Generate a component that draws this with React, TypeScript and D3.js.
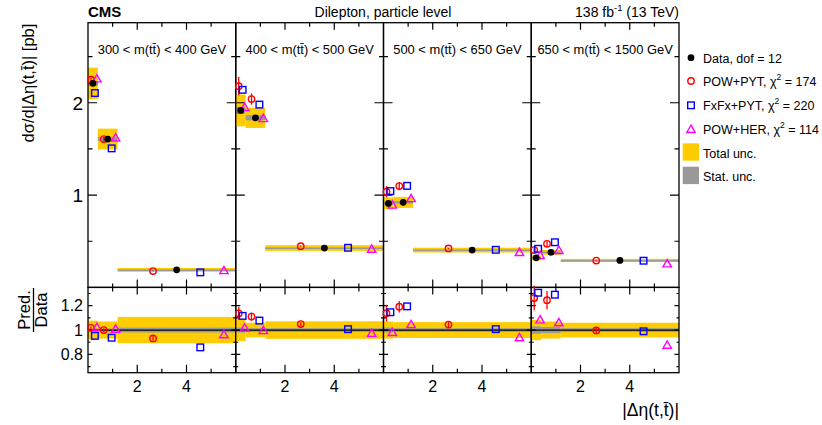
import React from "react";
import * as d3 from "d3";

// ---------------- data ----------------
const panelLabels = [
  "300 < m(tt\u0304) < 400 GeV",
  "400 < m(tt\u0304) < 500 GeV",
  "500 < m(tt\u0304) < 650 GeV",
  "650 < m(tt\u0304) < 1500 GeV",
];
const binEdges = [0, 0.4, 1.2, 6];
const dataXsec = [
  [2.21, 1.607, 0.19],
  [1.917, 1.837, 0.426],
  [0.91, 0.921, 0.404],
  [0.32, 0.379, 0.292],
];
const powPyt = [
  [2.25, 1.607, 0.177],
  [2.18, 2.04, 0.447],
  [1.036, 1.097, 0.422],
  [0.404, 0.472, 0.291],
];
const powPytRelErr = [
  [0.01, 0.015, 0.02],
  [0.045, 0.03, 0.015],
  [0.06, 0.04, 0.02],
  [0.08, 0.06, 0.02],
];
const fxfxPyt = [
  [2.105, 1.506, 0.163],
  [2.14, 1.98, 0.429],
  [1.043, 1.1, 0.407],
  [0.418, 0.489, 0.289],
];
const powHer = [
  [2.26, 1.62, 0.183],
  [1.95, 1.83, 0.415],
  [0.893, 0.963, 0.379],
  [0.347, 0.402, 0.256],
];
const totalRelUnc = [
  [0.077, 0.07, 0.108],
  [0.09, 0.06, 0.072],
  [0.07, 0.065, 0.065],
  [0.083, 0.07, 0.06],
];
const statRelUnc = [
  [0.012, 0.012, 0.02],
  [0.02, 0.015, 0.015],
  [0.02, 0.015, 0.015],
  [0.03, 0.025, 0.015],
];
const topMajorTicks = [1, 2];
const topMinorTicks = [0.5, 1.5, 2.5];
const ratioMajorTicks = [0.8, 1, 1.2];
const ratioMinorTicks = [0.7, 0.9, 1.1, 1.3];
const xMajorTicks = [2, 4];
const xMinorTicks = [1, 3, 5];
const legendEntries = [
  { key: "data", label: "Data, dof = 12", chi: "" },
  { key: "pow", label: "POW+PYT, ", chi: "174" },
  { key: "fxfx", label: "FxFx+PYT, ", chi: "220" },
  { key: "her", label: "POW+HER, ", chi: "114" },
];

// ---------------- layout ----------------
const W = 822;
const H = 425;
const X0 = 88;
const X1 = 679;
const TOP_Y0 = 22.7;
const TOP_Y1 = 287.4;
const RAT_Y1 = 372.7;
const NP = 4;
const PW = (X1 - X0) / NP;
const FONT = "'Liberation Sans', Arial, Helvetica, sans-serif";

const C_YEL = "#ffcc00";
const C_GRAY = "#999999";
const C_RED = "#ff0000";
const C_BLUE = "#0000ff";
const C_MAG = "#ff00ff";

const yTop = d3.scaleLinear().domain([0, 2.867]).range([TOP_Y1, TOP_Y0]);
const yRat = d3.scaleLinear().domain([0.65, 1.35]).range([RAT_Y1, TOP_Y1]);

function Marker({ kind, x, y }: { kind: string; x: number; y: number }) {
  if (kind === "data") return <circle cx={x} cy={y} r={3.4} fill="#000" />;
  if (kind === "pow")
    return <circle cx={x} cy={y} r={3.2} fill="none" stroke={C_RED} strokeWidth={1.4} />;
  if (kind === "fxfx")
    return <rect x={x - 3.3} y={y - 3.3} width={6.6} height={6.6} fill="none" stroke={C_BLUE} strokeWidth={1.4} />;
  const s = 4.2;
  return (
    <path
      d={`M${x},${y - s} L${x + s},${y + s * 0.75} L${x - s},${y + s * 0.75} Z`}
      fill="none"
      stroke={C_MAG}
      strokeWidth={1.4}
    />
  );
}

function Panel({ p }: { p: number }) {
  const px0 = X0 + p * PW;
  const x = d3.scaleLinear().domain([0, 6]).range([px0, px0 + PW]);
  const bins = d3.range(binEdges.length - 1).map((i) => {
    const lo = binEdges[i];
    const hi = binEdges[i + 1];
    const w = hi - lo;
    const c = (lo + hi) / 2;
    return { i, lo, hi, w, c };
  });
  const models = [
    { kind: "pow", vals: powPyt[p], off: -0.2 },
    { kind: "fxfx", vals: fxfxPyt[p], off: 0.2 },
    { kind: "her", vals: powHer[p], off: 0.4 },
  ];
  const els: any[] = [];
  bins.forEach((b) => {
    const d = dataXsec[p][b.i];
    const t = totalRelUnc[p][b.i] * d;
    const s = statRelUnc[p][b.i] * d;
    els.push(
      <rect key={`ty${b.i}`} x={x(b.lo)} width={x(b.hi) - x(b.lo)} y={yTop(d + t)} height={yTop(d - t) - yTop(d + t)} fill={C_YEL} />
    );
    els.push(
      <rect key={`tg${b.i}`} x={x(b.lo)} width={x(b.hi) - x(b.lo)} y={yTop(d + s)} height={Math.max(1.5, yTop(d - s) - yTop(d + s))} fill={C_GRAY} />
    );
    const t2 = totalRelUnc[p][b.i];
    const s2 = statRelUnc[p][b.i];
    els.push(
      <rect key={`ry${b.i}`} x={x(b.lo)} width={x(b.hi) - x(b.lo)} y={yRat(1 + t2)} height={yRat(1 - t2) - yRat(1 + t2)} fill={C_YEL} />
    );
    els.push(
      <rect key={`rg${b.i}`} x={x(b.lo)} width={x(b.hi) - x(b.lo)} y={yRat(1 + s2)} height={yRat(1 - s2) - yRat(1 + s2)} fill={C_GRAY} />
    );
  });
  els.push(<line key="one" x1={x(0)} x2={x(6)} y1={yRat(1)} y2={yRat(1)} stroke="#000" strokeWidth={1.3} />);
  els.push(<rect key="ftop" x={px0} y={TOP_Y0} width={PW} height={TOP_Y1 - TOP_Y0} fill="none" stroke="#000" strokeWidth={1.3} />);
  els.push(<rect key="frat" x={px0} y={TOP_Y1} width={PW} height={RAT_Y1 - TOP_Y1} fill="none" stroke="#000" strokeWidth={1.3} />);
  const tk: string[] = [];
  xMajorTicks.forEach((v) => {
    const xx = x(v);
    tk.push(`M${xx},${TOP_Y0}v7`, `M${xx},${TOP_Y1}v-8`, `M${xx},${TOP_Y1}v7`, `M${xx},${RAT_Y1}v-8`);
  });
  xMinorTicks.forEach((v) => {
    const xx = x(v);
    tk.push(`M${xx},${TOP_Y0}v4`, `M${xx},${TOP_Y1}v-4`, `M${xx},${TOP_Y1}v4`, `M${xx},${RAT_Y1}v-4`);
  });
  topMajorTicks.forEach((v) => {
    const yy = yTop(v);
    tk.push(`M${px0},${yy}h9`, `M${px0 + PW},${yy}h-9`);
  });
  topMinorTicks.forEach((v) => {
    const yy = yTop(v);
    tk.push(`M${px0},${yy}h4.5`, `M${px0 + PW},${yy}h-4.5`);
  });
  ratioMajorTicks.forEach((v) => {
    const yy = yRat(v);
    tk.push(`M${px0},${yy}h4.5`, `M${px0 + PW},${yy}h-4.5`);
  });
  ratioMinorTicks.forEach((v) => {
    const yy = yRat(v);
    tk.push(`M${px0},${yy}h2.5`, `M${px0 + PW},${yy}h-2.5`);
  });
  els.push(<path key="ticks" d={tk.join("")} stroke="#000" strokeWidth={1.2} fill="none" />);
  xMajorTicks.forEach((v) => {
    els.push(
      <text key={`xl${v}`} x={x(v)} y={392} textAnchor="middle" fontSize={16} fontFamily={FONT}>
        {String(v)}
      </text>
    );
  });
  els.push(
    <text key="plab" x={px0 + PW / 2} y={54} textAnchor="middle" fontSize={12.9} fontFamily={FONT}>
      {panelLabels[p]}
    </text>
  );
  bins.forEach((b) => {
    const d = dataXsec[p][b.i];
    models.forEach((m) => {
      const xx = x(b.c + m.off * b.w);
      const v = m.vals[b.i];
      const r = v / d;
      if (m.kind === "pow") {
        const e = powPytRelErr[p][b.i];
        els.push(
          <line key={`et${b.i}`} x1={xx} x2={xx} y1={yTop(v * (1 + e))} y2={yTop(v * (1 - e))} stroke={C_RED} strokeWidth={1.3} />
        );
        els.push(
          <line key={`er${b.i}`} x1={xx} x2={xx} y1={yRat(r * (1 + e))} y2={yRat(r * (1 - e))} stroke={C_RED} strokeWidth={1.3} />
        );
      }
      els.push(<Marker key={`mt${m.kind}${b.i}`} kind={m.kind} x={xx} y={yTop(v)} />);
      els.push(<Marker key={`mr${m.kind}${b.i}`} kind={m.kind} x={xx} y={yRat(r)} />);
    });
    els.push(<Marker key={`d${b.i}`} kind="data" x={x(b.c)} y={yTop(d)} />);
  });
  return <g>{els}</g>;
}

export default function App() {
  const legX = 691;
  const legRows = [57.7, 81, 105.3, 129.3];
  return (
    <div style={{ position: "fixed", left: 0, top: 0, width: W, height: H, background: "#fff" }}>
      <svg width={W} height={H} style={{ display: "block" }}>
        <rect width={W} height={H} fill="#fff" />
        {d3.range(NP).map((p) => (
          <Panel key={p} p={p} />
        ))}
        {topMajorTicks.map((v) => (
          <text key={`yt${v}`} x={83} y={yTop(v) + 7} textAnchor="end" fontSize={19} fontFamily={FONT}>
            {String(v)}
          </text>
        ))}
        {ratioMajorTicks.map((v) => (
          <text key={`yr${v}`} x={83} y={yRat(v) + 5.5} textAnchor="end" fontSize={16} fontFamily={FONT}>
            {d3.format("")(v)}
          </text>
        ))}
        <text transform="translate(33.7,83) rotate(-90)" textAnchor="middle" fontSize={16.5} fontFamily={FONT}>
          {"dσ/d|Δη(t,t\u0304)| [pb]"}
        </text>
        <g transform="translate(30,310) rotate(-90)">
          <text x={0} y={0} textAnchor="middle" fontSize={16.5} fontFamily={FONT}>
            Pred.
          </text>
          <line x1={-22} x2={22} y1={3.5} y2={3.5} stroke="#000" strokeWidth={1.3} />
          <text x={0} y={17} textAnchor="middle" fontSize={16.5} fontFamily={FONT}>
            Data
          </text>
        </g>
        <text x={679} y={416} textAnchor="end" fontSize={17.5} fontFamily={FONT}>
          {"|Δη(t,t\u0304)|"}
        </text>
        <text x={88} y={17} fontSize={15} fontWeight="bold" fontFamily={FONT}>
          CMS
        </text>
        <text x={383} y={17} textAnchor="middle" fontSize={14} fontFamily={FONT}>
          Dilepton, particle level
        </text>
        <text x={679} y={17} textAnchor="end" fontSize={14} fontFamily={FONT}>
          138 fb<tspan dy={-6} fontSize={9.5}>-1</tspan>
          <tspan dy={6}> (13 TeV)</tspan>
        </text>
        {legendEntries.map((e, i) => (
          <g key={e.key}>
            <Marker kind={e.key} x={legX} y={legRows[i]} />
            {e.chi ? (
              <text x={703} y={legRows[i] + 5} fontSize={12.5} fontFamily={FONT}>
                {e.label}χ<tspan dy={-6} fontSize={8.5}>2</tspan>
                <tspan dy={6}>{` = ${e.chi}`}</tspan>
              </text>
            ) : (
              <text x={703} y={legRows[i] + 5} fontSize={12.5} fontFamily={FONT}>
                {e.label}
              </text>
            )}
          </g>
        ))}
        <rect x={682.7} y={143.3} width={16.3} height={17.4} fill={C_YEL} />
        <text x={703} y={157.5} fontSize={12.5} fontFamily={FONT}>
          Total unc.
        </text>
        <rect x={682.7} y={166.7} width={16.3} height={17.4} fill={C_GRAY} />
        <text x={703} y={181} fontSize={12.5} fontFamily={FONT}>
          Stat. unc.
        </text>
      </svg>
    </div>
  );
}
